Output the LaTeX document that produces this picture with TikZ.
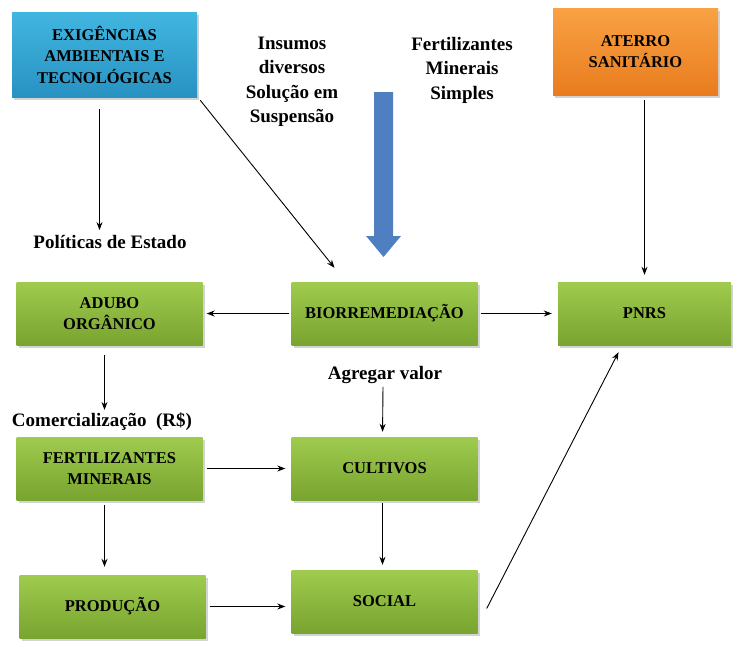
\documentclass[tikz,border=0pt]{standalone}
\usepackage{fontspec}
\setmainfont{Liberation Serif}
\usepackage{tikz}
\usetikzlibrary{shapes,arrows.meta,shadows,positioning}
\definecolor{verdetop}{HTML}{9FCB4E}
\definecolor{verdebot}{HTML}{78A430}
\definecolor{azultop}{HTML}{41B6E0}
\definecolor{azulbot}{HTML}{2892C2}
\definecolor{larantop}{HTML}{F8A244}
\definecolor{laranbot}{HTML}{E97C1E}
\definecolor{setaazul}{HTML}{4F7FC0}
\tikzset{
  caixa/.style = {rectangle, align=center, inner sep=0pt, text centered,
    font=\fontsize{16.5}{21.5}\selectfont\bfseries,
    drop shadow={shadow xshift=2pt, shadow yshift=-3pt, opacity=0.35}},
  cx_v/.style = {caixa, top color=verdetop, bottom color=verdebot,
    minimum width=186pt, minimum height=63pt},% caixa verde
  cx_a/.style = {caixa, top color=azultop, bottom color=azulbot,
    minimum width=185pt, minimum height=85pt},% caixa azul
  cx_l/.style = {caixa, top color=larantop, bottom color=laranbot,
    minimum width=165pt, minimum height=87pt},% caixa laranja
  rotulo/.style = {align=center, inner sep=2pt,
    font=\fontsize{19}{24.5}\selectfont\bfseries},% texto solto
  seta/.style = {-{Stealth[length=8pt,width=6pt]}, line width=0.9pt}
}

\begin{document}
\begin{tikzpicture}[x=1pt,y=-1pt]
        \useasboundingbox (0,0) rectangle (733,646);
        % caixas
        \node [cx_a](EX) at (104.5,54.5) {EXIGÊNCIAS\\AMBIENTAIS E\\TECNOLÓGICAS};
        \node [cx_l](AT) at (635.5,51.5) {ATERRO\\SANITÁRIO};
        \node [cx_v](AD) at (109.5,313.5) {ADUBO\\ORGÂNICO};
        \node [cx_v](BI) at (384.5,313.5) {BIORREMEDIAÇÃO};
        \node [cx_v, minimum width=173pt](PN) at (644.5,313.5) {PNRS};
        \node [cx_v](FE) at (109.5,468.5) {FERTILIZANTES\\MINERAIS};
        \node [cx_v](CU) at (384.5,468.5) {CULTIVOS};
        \node [cx_v](PR) at (112.5,606.5) {PRODUÇÃO};
        \node [cx_v](SO) at (384.5,601.5) {SOCIAL};
        % textos soltos
        \node [rotulo](IN) at (292,82) {Insumos\\diversos\\Solução em\\Suspensão};
        \node [rotulo](FM) at (462,70) {Fertilizantes\\Minerais\\Simples};
        \node [rotulo](PO) at (110,242) {Políticas de Estado};
        \node [rotulo](AG) at (385,375) {Agregar valor};
        \node [rotulo](CO) at (102,422) {Comercialização~~(R\$)};
        % seta azul
        \fill [setaazul] (374,92) -- (393,92) -- (393,236) -- (401,236)
          -- (383.5,257) -- (366,236) -- (374,236) -- cycle;
        % ligacoes
        \draw [seta, shorten <=12pt, shorten >=3pt] ([xshift=-5pt]EX.south) -- ([xshift=-5pt]EX.south |- PO.north);
        \draw [seta] ([shift={(3,3)}]EX.south east) -- ([shift={(-50,-14)}]BI.north);
        \draw [seta, shorten <=5pt, shorten >=7pt] (PN.north |- AT.south) -- (PN.north);
        \draw [seta, shorten <=2pt, shorten >=4pt] (BI) -- (AD);
        \draw [seta, shorten <=3pt, shorten >=6pt] (BI) -- (PN);
        \draw [seta, shorten <=10pt, shorten >=1pt] ([xshift=-5pt]AD.south) -- ([xshift=-5pt]AD.south |- CO.north);
        \draw [seta, shorten <=1pt, shorten >=5pt] ([xshift=-2pt]AG.south) -- ([xshift=-2pt]CU.north);
        \draw [seta, shorten <=4pt, shorten >=6pt] (FE) -- (CU);
        \draw [seta, shorten <=5pt, shorten >=8pt] ([xshift=-5pt]FE.south) -- ([xshift=-5pt]FE.south |- PR.north);
        \draw [seta, shorten <=3pt, shorten >=5pt] ([xshift=-2pt]CU.south) -- ([xshift=-2pt]SO.north);
        \draw [seta, shorten <=4pt, shorten >=6pt] (PR.east) -- (PR.east -| SO.west);
        \draw [seta] ([shift={(9,7)}]SO.east) -- ([shift={(-26,7)}]PN.south);
\end{tikzpicture}
\end{document}
